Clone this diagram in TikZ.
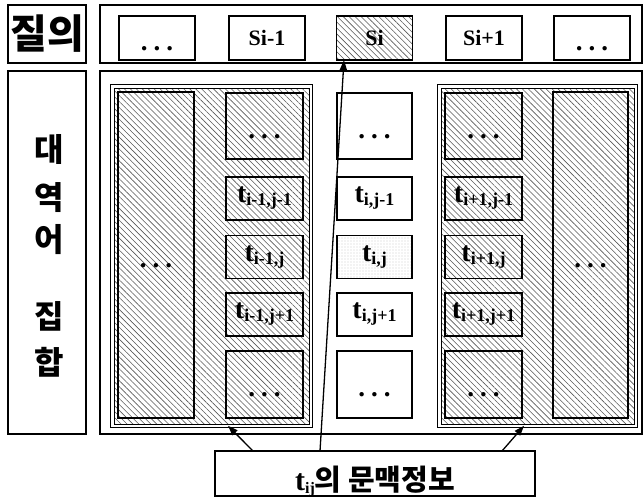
\documentclass[tikz,border=0pt]{standalone}
\usepackage{fontspec}
\setmainfont{Liberation Serif}
\newfontfamily\kr{Noto Sans CJK KR}
\usetikzlibrary{patterns.meta,arrows.meta}
\newcommand\tridots{{\bfseries\fontsize{27}{27}\selectfont .\hspace{6pt}.\hspace{6pt}.}}
\newcommand\tsub[1]{{\fontsize{28}{28}\selectfont t}\raisebox{-3pt}{\fontsize{18}{18}\selectfont #1}}
\begin{document}
\begin{tikzpicture}[x=1pt,y=-1pt,
  frame/.style={draw=black,line width=1.6pt,inner sep=0pt,outer sep=0pt},
  cell/.style={draw=black,line width=1.3pt,inner sep=0pt,outer sep=0pt,font=\bfseries\fontsize{22}{22}\selectfont},
  grp/.style={draw=black,line width=1pt,double,double distance=2.5pt,inner sep=0pt,outer sep=0pt},
  hatch/.style={pattern={Lines[angle=-45,distance=4.2pt,line width=0.6pt]},pattern color=black!65},
  stip/.style={pattern={Dots[distance=3pt,radius=0.4pt]},pattern color=black!55},
  arr/.style={line width=1.3pt,-{Triangle[length=10pt,width=7pt]}},
  dotsq/.style={text height=24pt,text depth=0pt},
  qcell/.style={cell,minimum width=76pt,minimum height=44pt},
  lcell/.style={cell,minimum width=77pt},
  mcell/.style={cell,minimum width=75pt,fill=white},
  rowa/.style={minimum height=66pt},
  rowb/.style={minimum height=43pt},
  rowc/.style={minimum height=67pt},
  krv/.style={inner sep=0pt,font={\kr\bfseries\fontsize{32}{32}\selectfont}},
]
\useasboundingbox (0,0) rectangle (644,499);
\clip (0,0) rectangle (644,499);
\fill[white] (0,0) rectangle (644,499);

% query row
\node[frame,minimum width=78pt,minimum height=58pt,font={\kr\bfseries\fontsize{40}{40}\selectfont}] (qlab) at (47,34) {질의};
\node[frame,minimum width=542pt,minimum height=58pt] (qrow) at (371,34) {};
\node[qcell,dotsq] (q0) at (157,38) {\tridots};
\node[qcell] (q1) at (267,38) {Si-1};
\node[qcell,hatch] (q2) at (374.5,38) {Si};
\node[qcell] (q3) at (484,38) {Si+1};
\node[qcell,dotsq] (q4) at (592,38) {\tridots};

% candidate set
\node[frame,minimum width=78pt,minimum height=363pt] (tlab) at (47,252.5) {};
\node[krv] (tl1) at (49,149) {대};
\node[krv] (tl2) at (49,198) {역};
\node[krv] (tl3) at (49,240) {어};
\node[krv] (tl4) at (49,316) {집};
\node[krv] (tl5) at (49,362) {합};
\node[frame,line width=2pt,minimum width=542pt,minimum height=363pt] (main) at (371,252.5) {};

\node[grp,hatch,minimum width=198.5pt,minimum height=339.5pt] (lg) at (211.5,256) {};
\node[grp,hatch,minimum width=196.5pt,minimum height=339.5pt] (rg) at (537.5,256) {};

\node[cell,minimum width=76pt,minimum height=326pt,dotsq] (lt) at (156,255) {\tridots};
\node[cell,minimum width=75pt,minimum height=326pt,dotsq] (rt) at (590.5,255) {\tridots};

% left column
\node[lcell,rowa,dotsq] (l0) at (264.5,126) {\tridots};
\node[lcell,rowb] (l1) at (264.5,198.5) {\tsub{i-1,j-1}};
\node[lcell,rowb] (l2) at (264.5,257) {\tsub{i-1,j}};
\node[lcell,rowb] (l3) at (264.5,314.5) {\tsub{i-1,j+1}};
\node[lcell,rowc,dotsq] (l4) at (264.5,384.5) {\tridots};

% middle column
\node[mcell,rowa,dotsq] (m0) at (374.5,126) {\tridots};
\node[mcell,rowb] (m1) at (374.5,198.5) {\tsub{i,j-1}};
\node[mcell,rowb,stip] (m2) at (374.5,257) {\tsub{i,j}};
\node[mcell,rowb] (m3) at (374.5,314.5) {\tsub{i,j+1}};
\node[mcell,rowc,dotsq] (m4) at (374.5,384.5) {\tridots};

% right column
\node[lcell,rowa,dotsq] (r0) at (483.5,126) {\tridots};
\node[lcell,rowb] (r1) at (483.5,198.5) {\tsub{i+1,j-1}};
\node[lcell,rowb] (r2) at (483.5,257) {\tsub{i+1,j}};
\node[lcell,rowb] (r3) at (483.5,314.5) {\tsub{i+1,j+1}};
\node[lcell,rowc,dotsq] (r4) at (483.5,384.5) {\tridots};

% context box
\node[frame,minimum width=320pt,minimum height=45pt,text height=33pt,text depth=0pt] (ctx) at (375,473.5)
  {{\bfseries\fontsize{30}{30}\selectfont t}\raisebox{-3pt}{\bfseries\fontsize{16}{16}\selectfont ij}{\kr\bfseries\fontsize{29}{29}\selectfont 의 문맥정보}};

% arrows
\draw[arr] ([xshift=105pt]ctx.north west) -- ([xshift=-30.5pt]q2.south);
\draw[arr] ([xshift=38pt]ctx.north west) -- ([xshift=16.5pt]lg.south);
\draw[arr] ([xshift=-33pt]ctx.north east) -- ([xshift=-13.5pt]rg.south);
\end{tikzpicture}
\end{document}
